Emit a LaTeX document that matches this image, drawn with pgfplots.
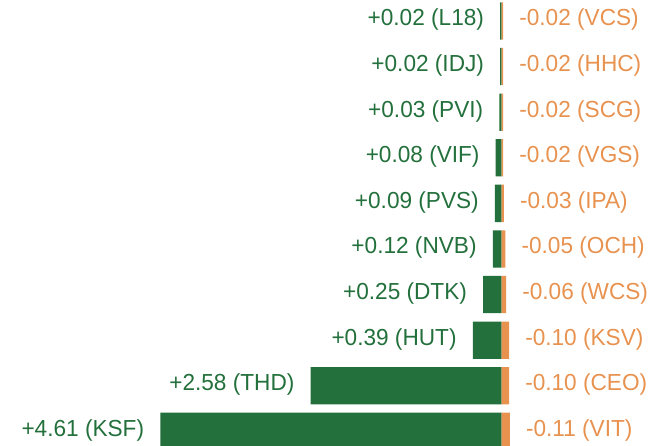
\documentclass[border=0pt]{standalone}
\usepackage{fontspec}
\setmainfont{Liberation Sans}[FakeStretch=0.975]
\usepackage{pgfplots}
\pgfplotsset{compat=1.18}
\definecolor{upgreen}{RGB}{35,112,60}
\definecolor{downorange}{RGB}{232,146,80}
\begin{document}
\begin{tikzpicture}
\useasboundingbox (0,0) rectangle (649pt,446pt);
\begin{axis}[
  at={(0,0)}, anchor=south west,
  scale only axis, width=649pt, height=446pt,
  xmin=-6.775, xmax=1.99, ymin=-0.32, ymax=9.46,
  hide axis, clip=false,
  xbar, bar width=37.3pt, bar shift=0pt,
  point meta=explicit symbolic,
  nodes near coords,
  every node near coord/.append style={font=\fontsize{23.2}{27}\selectfont, inner sep=0pt},
]
\addplot[draw=none, fill=upgreen,
  every node near coord/.append style={anchor=east, xshift=-16pt, yshift=1pt, text=upgreen}]
coordinates {
(-0.02,9) [+0.02 (L18)]
(-0.02,8) [+0.02 (IDJ)]
(-0.03,7) [+0.03 (PVI)]
(-0.08,6) [+0.08 (VIF)]
(-0.09,5) [+0.09 (PVS)]
(-0.12,4) [+0.12 (NVB)]
(-0.25,3) [+0.25 (DTK)]
(-0.39,2) [+0.39 (HUT)]
(-2.58,1) [+2.58 (THD)]
(-4.61,0) [+4.61 (KSF)]
};
\addplot[draw=none, fill=downorange,
  every node near coord/.append style={anchor=west, xshift=16pt, yshift=1pt, text=downorange}]
coordinates {
(0.02,9) [-0.02 (VCS)]
(0.02,8) [-0.02 (HHC)]
(0.02,7) [-0.02 (SCG)]
(0.02,6) [-0.02 (VGS)]
(0.03,5) [-0.03 (IPA)]
(0.05,4) [-0.05 (OCH)]
(0.06,3) [-0.06 (WCS)]
(0.10,2) [-0.10 (KSV)]
(0.10,1) [-0.10 (CEO)]
(0.11,0) [-0.11 (VIT)]
};
\end{axis}
\end{tikzpicture}
\end{document}
